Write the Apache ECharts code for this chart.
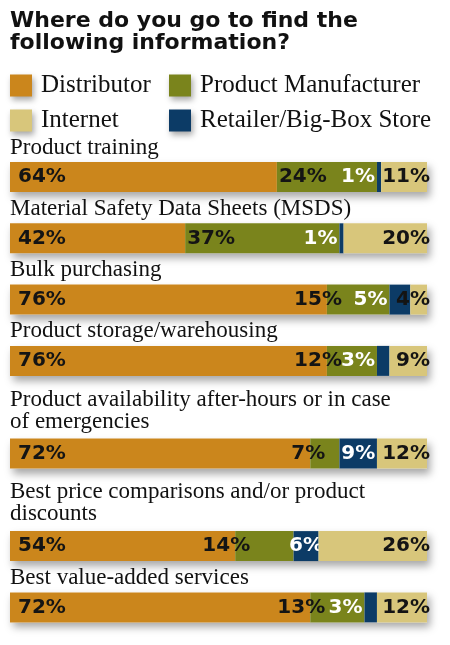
<!DOCTYPE html>
<html>
<head>
<meta charset="utf-8">
<script src="https://cdn.jsdelivr.net/npm/echarts@6/dist/echarts.min.js"></script>
<style>
html,body{margin:0;padding:0;background:#fff;}
#chart{width:450px;height:645px;}
</style>
</head>
<body>
<div id="chart"></div>
<script>
// ---- data ----
var titleText = 'Where do you go to find the\nfollowing information?';
var categories = [
  'Product training',
  'Material Safety Data Sheets (MSDS)',
  'Bulk purchasing',
  'Product storage/warehousing',
  'Product availability after-hours or in case\nof emergencies',
  'Best price comparisons and/or product\ndiscounts',
  'Best value-added services'
];
var seriesNames = ['Distributor', 'Product Manufacturer', 'Retailer/Big-Box Store', 'Internet'];
var distributor  = [64, 42, 76, 76, 72, 54, 72];
var manufacturer = [24, 37, 15, 12, 7, 14, 13];
var retailer     = [1, 1, 5, 3, 9, 6, 3];
var internet     = [11, 20, 4, 9, 12, 26, 12];

// ---- styles / layout ----
var colors = {
  'Distributor': '#CB861C',
  'Product Manufacturer': '#7A841C',
  'Retailer/Big-Box Store': '#0C3B66',
  'Internet': '#D8C67B'
};
var serif = '"Liberation Serif", "Times New Roman", serif';
var sans = '"DejaVu Sans", sans-serif';

var firstBarTop = 162, barH = 30, perLine = 31.3;
var rows = [];
var y = firstBarTop;
categories.forEach(function (c, i) {
  var lines = c.split('\n').length;
  if (i > 0) y += barH + perLine * lines;
  rows.push({top: y, lines: lines});
});

var values = [distributor, manufacturer, retailer, internet];

function labelFor(si, v) {
  var base = {show: true, formatter: '{c}%', fontFamily: sans, fontWeight: 'bold', fontSize: 20, color: '#141414'};
  if (si === 0) { base.position = 'insideLeft'; base.distance = 8; }
  else if (si === 1) {
    if (v >= 20) { base.position = 'insideLeft'; base.distance = 2; }
    else { base.position = 'left'; base.distance = -15; }
  }
  else if (si === 2) {
    base.color = '#ffffff';
    if (v >= 6) { base.position = 'inside'; }
    else { base.position = 'left'; base.distance = 2; }
  }
  else { base.position = 'insideRight'; base.distance = -3; }
  return base;
}

var grids = [], xAxes = [], yAxes = [], series = [], titles = [];
titles.push({
  text: titleText, left: 10, top: 10, padding: 0,
  textStyle: {fontFamily: sans, fontWeight: 'bold', fontSize: 22, lineHeight: 22, color: '#111'}
});
rows.forEach(function (r, i) {
  grids.push({left: 10, right: 23, top: r.top, height: barH});
  xAxes.push({type: 'value', gridIndex: i, min: 0, max: 100, show: false});
  yAxes.push({type: 'category', gridIndex: i, data: [categories[i]], show: false});
  titles.push({
    text: categories[i], left: 10, bottom: 645 - r.top + 2.5 + (r.lines - 1) * 2.5, padding: 0,
    textStyle: {fontFamily: serif, fontWeight: 'normal', fontSize: 23, lineHeight: 22, color: '#111'}
  });
  seriesNames.forEach(function (name, si) {
    var v = values[si][i];
    var s = {
      type: 'bar', name: name, stack: 'row' + i,
      xAxisIndex: i, yAxisIndex: i,
      barWidth: '100%',
      itemStyle: {color: colors[name]},
      emphasis: {disabled: true},
      z: 2 + si,
      data: [{value: v, label: labelFor(si, v)}]
    };
    if (si === 0) {
      s.showBackground = true;
      s.backgroundStyle = {color: '#ffffff', shadowBlur: 8, shadowColor: 'rgba(0,0,0,0.35)', shadowOffsetX: 3, shadowOffsetY: 5};
    }
    series.push(s);
  });
});

var legendCommon = {
  orient: 'vertical', top: 73, itemWidth: 22, itemHeight: 22, itemGap: 10, padding: 0,
  icon: 'rect', selectedMode: false,
  itemStyle: {shadowBlur: 6, shadowColor: 'rgba(0,0,0,0.35)', shadowOffsetX: 2, shadowOffsetY: 3},
  textStyle: {fontFamily: serif, fontSize: 25, color: '#111', padding: [0, 0, 0, 4]}
};
var legends = [
  Object.assign({}, legendCommon, {left: 10, data: ['Distributor', 'Internet']}),
  Object.assign({}, legendCommon, {left: 169, data: ['Product Manufacturer', 'Retailer/Big-Box Store']})
];

var chart = echarts.init(document.getElementById('chart'), null, {renderer: 'canvas'});
chart.setOption({
  animation: false,
  backgroundColor: '#ffffff',
  title: titles,
  legend: legends,
  grid: grids,
  xAxis: xAxes,
  yAxis: yAxes,
  series: series
});
</script>
</body>
</html>
